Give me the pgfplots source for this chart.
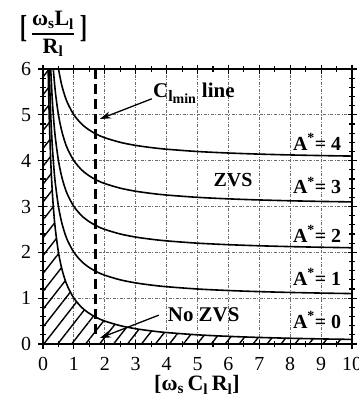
\documentclass[border=0pt]{standalone}
\usepackage{amsmath}
\usepackage{graphicx}
\usepackage{fontspec}
\setmainfont{Liberation Serif}
\usepackage{pgfplots}
\pgfplotsset{compat=1.18}
\usetikzlibrary{patterns.meta,arrows.meta}
\begin{document}
\begin{tikzpicture}[x=1bp,y=1bp]
\begin{axis}[at={(0,0)},anchor=south west, scale only axis, width=309bp, height=275bp,
  xmin=0,xmax=10,ymin=0,ymax=6,
  xtick={0,...,10}, ytick={0,...,6},
  minor x tick num=1, minor y tick num=4,
  tick align=center, major tick length=9bp, minor tick length=6bp,
  tick style={line width=1.1bp, black},
  axis line style={line width=1.6bp},
  grid=major, major grid style={gray!85!black, line width=0.9bp, dash pattern=on 3bp off 1.5bp on 1bp off 1.5bp},
  /pgf/number format/assume math mode=true,
  tick label style={font=\fontsize{20}{20}\selectfont},
  xticklabel style={yshift=-5bp},
  yticklabel style={xshift=-4bp},
]
% hatched No-ZVS region
\addplot[draw=none, pattern={Lines[angle=52,distance=11bp,line width=1.4bp]}, pattern color=black]
coordinates {(0,6) (0.1667,6) (0.2,5) (0.25,4) (0.3,3.333) (0.35,2.857) (0.4,2.5) (0.5,2) (0.6,1.667) (0.7,1.429) (0.8,1.25) (1,1) (1.25,0.8) (1.5,0.667) (1.75,0.571) (2,0.5) (2.5,0.4) (3,0.333) (3.5,0.286) (4,0.25) (5,0.2) (6,0.167) (7,0.143) (8,0.125) (9,0.111) (10,0.1)} \closedcycle;
% A*=0
\addplot[black, line width=1.6bp, smooth] coordinates {(0.1667,6) (0.2,5) (0.25,4) (0.3,3.333) (0.35,2.857) (0.4,2.5) (0.5,2) (0.6,1.667) (0.7,1.429) (0.8,1.25) (1,1) (1.25,0.8) (1.5,0.667) (1.75,0.571) (2,0.5) (2.5,0.4) (3,0.333) (3.5,0.286) (4,0.25) (5,0.2) (6,0.167) (7,0.143) (8,0.125) (9,0.111) (10,0.1)};
% A*=1
\addplot[black, line width=1.6bp, smooth] coordinates {(0.2,6) (0.25,5) (0.3,4.333) (0.35,3.857) (0.4,3.5) (0.5,3) (0.6,2.667) (0.7,2.429) (0.8,2.25) (1,2) (1.25,1.8) (1.5,1.667) (1.75,1.571) (2,1.5) (2.5,1.4) (3,1.333) (3.5,1.286) (4,1.25) (5,1.2) (6,1.167) (7,1.143) (8,1.125) (9,1.111) (10,1.1)};
% A*=2
\addplot[black, line width=1.6bp, smooth] coordinates {(0.25,6) (0.3,5.333) (0.35,4.857) (0.4,4.5) (0.5,4) (0.6,3.667) (0.7,3.429) (0.8,3.25) (1,3) (1.25,2.8) (1.5,2.667) (1.75,2.571) (2,2.5) (2.5,2.4) (3,2.333) (3.5,2.286) (4,2.25) (5,2.2) (6,2.167) (7,2.143) (8,2.125) (9,2.111) (10,2.1)};
% A*=3
\addplot[black, line width=1.6bp, smooth] coordinates {(0.3333,6) (0.4,5.5) (0.5,5) (0.6,4.667) (0.7,4.429) (0.8,4.25) (1,4) (1.25,3.8) (1.5,3.667) (1.75,3.571) (2,3.5) (2.5,3.4) (3,3.333) (3.5,3.286) (4,3.25) (5,3.2) (6,3.167) (7,3.143) (8,3.125) (9,3.111) (10,3.1)};
% A*=4
\addplot[black, line width=1.6bp, smooth] coordinates {(0.5,6) (0.6,5.667) (0.7,5.429) (0.8,5.25) (1,5) (1.25,4.8) (1.5,4.667) (1.75,4.571) (2,4.5) (2.5,4.4) (3,4.333) (3.5,4.286) (4,4.25) (5,4.2) (6,4.167) (7,4.143) (8,4.125) (9,4.111) (10,4.1)};
% C_lmin line
\addplot[black, line width=2.4bp, dash pattern=on 10bp off 5bp] coordinates {(1.7,6) (1.7,0.15)};
% arrows
\draw[line width=1.3bp, -{Stealth[length=11bp,width=7bp]}] (axis cs:3.52,5.35) -- (axis cs:1.84,4.91);
\draw[line width=1.3bp, -{Stealth[length=11bp,width=7bp]}] (axis cs:3.75,0.63) -- (axis cs:1.84,0.13);
% labels
\node[anchor=base west, font=\fontsize{21}{21}\selectfont\bfseries, inner sep=0pt] at (axis cs:3.56,5.37) {C\raisebox{-4bp}{\fontsize{16}{16}\selectfont l}\raisebox{-6bp}{\fontsize{14}{14}\selectfont min}\hspace{6bp}line};
\node[font=\fontsize{20}{20}\selectfont\bfseries, inner sep=0pt] at (axis cs:6.15,3.57) {ZVS};
\node[font=\fontsize{21}{21}\selectfont\bfseries, inner sep=0pt] at (axis cs:5.2,0.63) {No ZVS};
\node[font=\fontsize{20}{20}\selectfont\bfseries, inner sep=0pt] at (axis cs:8.87,4.41) {A\textsuperscript{*}= 4};
\node[font=\fontsize{20}{20}\selectfont\bfseries, inner sep=0pt] at (axis cs:8.87,3.46) {A\textsuperscript{*}= 3};
\node[font=\fontsize{20}{20}\selectfont\bfseries, inner sep=0pt] at (axis cs:8.87,2.40) {A\textsuperscript{*}= 2};
\node[font=\fontsize{20}{20}\selectfont\bfseries, inner sep=0pt] at (axis cs:8.87,1.46) {A\textsuperscript{*}= 1};
\node[font=\fontsize{20}{20}\selectfont\bfseries, inner sep=0pt] at (axis cs:8.87,0.52) {A\textsuperscript{*}= 0};
\end{axis}
% y label
\node[inner sep=0pt] at (10,310) {$\genfrac{}{}{1.4bp}{0}{\mbox{\fontsize{22}{22}\selectfont\bfseries ω\textsubscript{s}L\textsubscript{l}}}{\mbox{\fontsize{22}{22}\selectfont\bfseries R\textsubscript{l}}}$};
\node[inner sep=0pt, font=\fontsize{22}{22}\selectfont\bfseries] at (-19.5,315) {\scalebox{1}[1.45]{[}};
\node[inner sep=0pt, font=\fontsize{22}{22}\selectfont\bfseries] at (40.5,315) {\scalebox{1}[1.45]{]}};
% x label
\node[inner sep=0pt, font=\fontsize{22}{22}\selectfont\bfseries] at (154,-41) {[ω\textsubscript{s}\,C\textsubscript{l}\,R\textsubscript{l}]};
\pgfresetboundingbox
\path[use as bounding box] (-43,-56) rectangle (316,344);
\end{tikzpicture}
\end{document}
